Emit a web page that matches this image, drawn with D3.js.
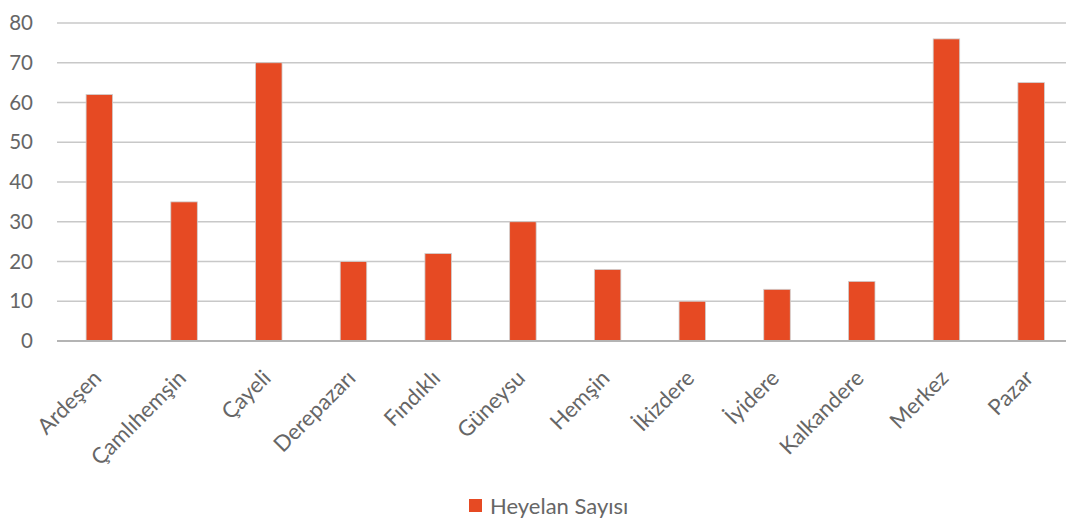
<!DOCTYPE html>
<html><head><meta charset="utf-8">
<script src="https://cdn.jsdelivr.net/npm/d3@7"></script>
<style>body{margin:0;background:#fff}svg{display:block}</style>
</head><body>
<svg id="c" width="1066" height="521"></svg>
<script>
const categories = ["Ardeşen","Çamlıhemşin","Çayeli","Derepazarı","Fındıklı","Güneysu","Hemşin","İkizdere","İyidere","Kalkandere","Merkez","Pazar"];
const values = [62,35,70,20,22,30,18,10,13,15,76,65];
const yTicks = [0,10,20,30,40,50,60,70,80];
const seriesName = "Heyelan Sayısı";

(function () {
const svg = d3.select("#c");
const font = "Lato, 'Open Sans', sans-serif";
const mLeft = 57, mRight = 1073.5, mTop = 23, mBottom = 341;
const x = d3.scaleBand().domain(categories).range([mLeft, mRight]).padding(0);
const y = d3.scaleLinear().domain([0, 80]).range([mBottom, mTop]);
const bw = x.bandwidth() * 0.313;

svg.append("g").selectAll("line").data(yTicks.filter(d => d > 0)).join("line")
  .attr("x1", mLeft).attr("x2", 1066)
  .attr("y1", d => y(d)).attr("y2", d => y(d))
  .attr("stroke", "#c8c8c8").attr("stroke-width", 1.5);

svg.append("g").selectAll("text").data(yTicks).join("text")
  .attr("x", 33).attr("y", d => y(d)).attr("dy", "0.35em")
  .attr("text-anchor", "end").attr("font-family", font).attr("font-size", 20.5)
  .attr("fill", "#666").text(d => d);

svg.append("g").selectAll("rect").data(categories).join("rect")
  .attr("x", (d) => x(d) + (x.bandwidth() - bw) / 2)
  .attr("y", (d, i) => y(values[i]))
  .attr("width", bw)
  .attr("height", (d, i) => y(0) - y(values[i]))
  .attr("fill", "#E64A23")
  .attr("stroke", "#cfcfcf").attr("stroke-width", 0.8);

svg.append("line").attr("x1", mLeft).attr("x2", 1066)
  .attr("y1", y(0)).attr("y2", y(0)).attr("stroke", "#b4b4b4").attr("stroke-width", 1.8);

svg.append("g").selectAll("text").data(categories).join("text")
  .attr("transform", d => `translate(${x(d) + x.bandwidth() / 2 - 2},${mBottom + 33}) rotate(-45)`)
  .attr("text-anchor", "end").attr("dy", "0.35em")
  .attr("font-family", font).attr("font-size", 22).attr("fill", "#666")
  .text(d => d);

const lg = svg.append("g").attr("transform", "translate(469,499)");
lg.append("rect").attr("width", 13).attr("height", 13).attr("fill", "#E64A23");
lg.append("text").attr("x", 21).attr("y", 7).attr("dy", "0.35em")
  .attr("font-family", font).attr("font-size", 22).attr("fill", "#666").text(seriesName);
})();
</script>
</body></html>
